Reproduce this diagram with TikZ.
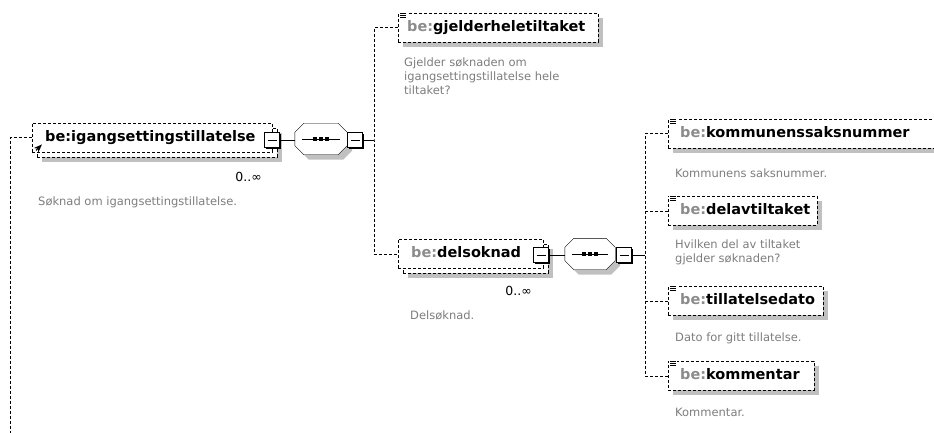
\documentclass[tikz,border=0pt]{standalone}
\usepackage{fontspec}
\setmainfont{DejaVu Sans}
\usetikzlibrary{shadows, arrows.meta}

\definecolor{begray}{RGB}{140,140,140}
\definecolor{descgray}{RGB}{125,125,125}
\definecolor{boxshade}{RGB}{192,192,192}

% prefix in gray, local name in black
\newcommand{\bename}[1]{\textcolor{begray}{be:}#1}
% little "element" mark on the top left corner of a box
\newcommand{\elemicon}[1]{%
  \fill[white] ([shift={(1,-1)}]#1.north west) rectangle ([shift={(9,5)}]#1.north west);
  \foreach \dy in {0,2,4}
    \draw[line width=.8pt] ([shift={(2,\dy)}]#1.north west) -- ++(6,0);
}
% octagon round a (hidden) sequence node, moved by #2
\newcommand{\octpath}[2]{%
  ([shift={(#2,#2)}, xshift=9pt]#1.north west) -- ([shift={(#2,#2)}, xshift=-9pt]#1.north east)
  -- ([shift={(#2,#2)}, yshift=-9pt]#1.north east) -- ([shift={(#2,#2)}, yshift=9pt]#1.south east)
  -- ([shift={(#2,#2)}, xshift=-9pt]#1.south east) -- ([shift={(#2,#2)}, xshift=9pt]#1.south west)
  -- ([shift={(#2,#2)}, yshift=9pt]#1.south west) -- ([shift={(#2,#2)}, yshift=-9pt]#1.north west) -- cycle}
\newcommand{\seqshape}[1]{%
  \fill[boxshade] \octpath{#1}{5};
  \filldraw[fill=white] \octpath{#1}{0};
  \draw ([xshift=7pt]#1.west) -- ([xshift=-7pt]#1.east);
  \foreach \dx in {-6,0,6}
    \fill ([xshift=\dx pt]#1.center) +(-1.7pt,-1.7pt) rectangle +(1.7pt,1.7pt);
}

\begin{document}
\begin{tikzpicture}[x=1pt, y=-1pt, >=Stealth,
    opt/.style={dash pattern=on 3pt off 2pt},
    shade5/.style={drop shadow={shadow xshift=5pt, shadow yshift=-5pt, fill=boxshade, opacity=1}},
    elem/.style={draw, opt, fill=white, anchor=north west, minimum height=29pt,
      text height=11pt, text depth=3pt, align=left, inner xsep=12pt,
      font=\fontsize{14.5}{16}\selectfont\bfseries},
    minus/.style={draw, solid, fill=white, minimum size=15pt, inner sep=0pt, line width=.9pt,
      drop shadow={shadow xshift=1.5pt, shadow yshift=-1.5pt, fill=black, opacity=1},
      path picture={\draw ([xshift=3pt]path picture bounding box.west) -- ([xshift=-3pt]path picture bounding box.east);}},
    seqbox/.style={minimum width=52pt, minimum height=31pt, inner sep=0pt},
    desc/.style={anchor=north west, inner sep=0pt, align=left, text=descgray,
      font=\fontsize{11.5}{14}\selectfont},
    occurs/.style={anchor=base east, inner sep=0pt, font=\fontsize{12.5}{14}\selectfont}]

    \useasboundingbox (0,0) rectangle (934,433);
    \clip (0,0) rectangle (934,433);

    % Root element
    \node[elem, shade5, inner xsep=13pt, text width=214pt] (igangback) at (37,128) {};
    \node[elem, inner xsep=13pt, text width=214pt] (igang) at (32,123) {be:igangsettingstillatelse};
    \node[minus] (igangmin) at (272,140) {};
    \draw[->, line width=1.2pt] ([shift={(4,-2)}]igang.south west) -- ++(6,-6);
    \node[occurs] (igangocc) at (262,181) {0..∞};
    \node[desc] (igangdesc) at (38,197) {Søknad om igangsettingstillatelse.};
    \coordinate (busL) at (10,440);

    % First sequence
    \node[seqbox] (seqA) at (321,139) {};
    \seqshape{seqA}
    \node[minus] (seqAmin) at (355,140) {};
    \coordinate (busA) at (374,140);

    \node[elem, shade5, inner xsep=9pt, text width=182pt] (gjelder) at (398,13) {\bename{gjelderheletiltaket}};
    \node[desc] (gjelderdesc) at (404,58) {Gjelder søknaden om\\igangsettingstillatelse hele\\tiltaket?};

    \node[elem, shade5, inner xsep=13pt, text width=119pt] (delsback) at (403,244) {};
    \node[elem, inner xsep=13pt, text width=119pt] (dels) at (398,239) {\bename{delsoknad}};
    \node[minus] (delsmin) at (541,255) {};
    \node[occurs] (delsocc) at (532,295) {0..∞};
    \node[desc] (delsdesc) at (410,311) {Delsøknad.};

    % Second sequence
    \node[seqbox, minimum width=50pt] (seqB) at (590,254) {};
    \seqshape{seqB}
    \node[minus] (seqBmin) at (624,255) {};
    \coordinate (busB) at (645,255);

    \node[elem, shade5, text width=266pt] (komm) at (668,119) {\bename{kommunenssaksnummer}};
    \node[desc] (kommdesc) at (675,169) {Kommunens saksnummer.};
    \node[elem, shade5, text width=125pt] (delav) at (668,196) {\bename{delavtiltaket}};
    \node[desc] (delavdesc) at (675,240) {Hvilken del av tiltaket\\gjelder søknaden?};
    \node[elem, shade5, text width=131pt] (tilla) at (668,286) {\bename{tillatelsedato}};
    \node[desc] (tilladesc) at (675,333) {Dato for gitt tillatelse.};
    \node[elem, shade5, text width=122pt] (komment) at (668,361) {\bename{kommentar}};
    \node[desc] (kommentdesc) at (675,408) {Kommentar.};

    \foreach \n in {gjelder, komm, delav, tilla, komment}
      \elemicon{\n};

    % Edges
    \draw[opt] (igang.west) -| (busL);
    \draw (igangmin.east) -- (igangmin.east -| seqA.west);
    \draw (seqAmin.east) -- (busA);
    \draw[opt] (gjelder.west) -| (busA) |- (dels.west);
    \draw (delsmin.east) -- (delsmin.east -| seqB.west);
    \draw (seqBmin.east) -- (busB);
    \draw[opt] (komm.west) -| (busB) |- (komment.west);
    \draw[opt] (delav.west) -- (delav.west -| busB);
    \draw[opt] (tilla.west) -- (tilla.west -| busB);
\end{tikzpicture}
\end{document}
